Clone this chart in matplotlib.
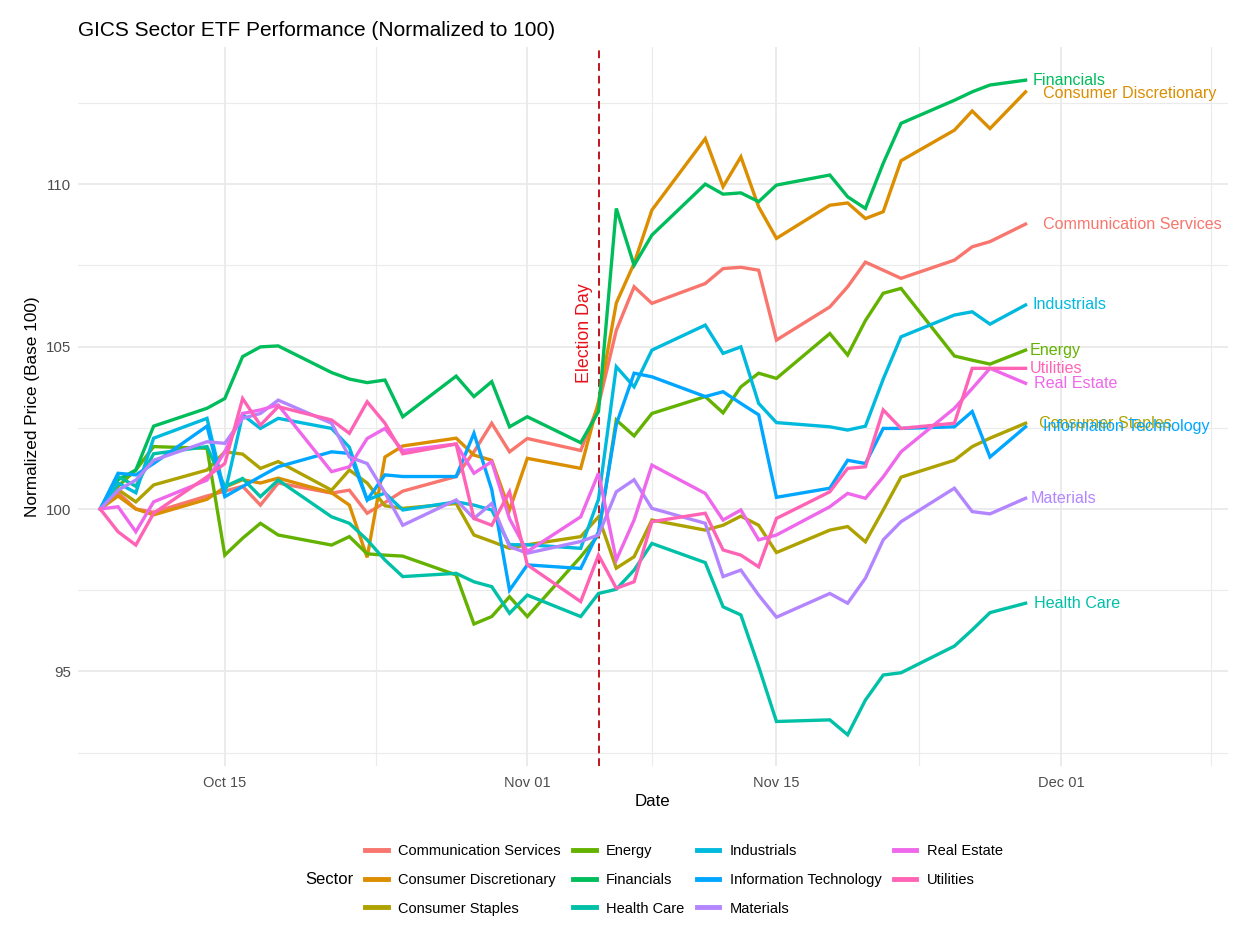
import matplotlib
matplotlib.use("Agg")
import matplotlib.pyplot as plt
import matplotlib.dates as mdates
from matplotlib.lines import Line2D
import pandas as pd

plt.rcParams['font.family'] = ['Liberation Sans', 'DejaVu Sans']

dates = pd.to_datetime([
    "2024-10-08", "2024-10-09", "2024-10-10", "2024-10-11", "2024-10-14", "2024-10-15",
    "2024-10-16", "2024-10-17", "2024-10-18", "2024-10-21", "2024-10-22", "2024-10-23",
    "2024-10-24", "2024-10-25", "2024-10-28", "2024-10-29", "2024-10-30", "2024-10-31",
    "2024-11-01", "2024-11-04", "2024-11-05", "2024-11-06", "2024-11-07", "2024-11-08",
    "2024-11-11", "2024-11-12", "2024-11-13", "2024-11-14", "2024-11-15", "2024-11-18",
    "2024-11-19", "2024-11-20", "2024-11-21", "2024-11-22", "2024-11-25", "2024-11-26",
    "2024-11-27", "2024-11-29"])

comm_services = [100, 100.5, 100.0, 99.9, 100.4, 100.55, 100.7, 100.12, 100.8, 100.49, 100.58, 99.87,
                 100.2, 100.55, 101.0, 101.76, 102.64, 101.76, 102.17, 101.8, 103.2, 105.5, 106.84, 106.33,
                 106.94, 107.4, 107.44, 107.35, 105.2, 106.22, 106.84, 107.6, 107.35, 107.1, 107.66, 108.07,
                 108.23, 108.77]
cons_discretionary = [100, 100.4, 100.0, 99.82, 100.3, 100.67, 100.9, 100.8, 100.95, 100.5, 100.12, 98.51,
                      101.6, 101.94, 102.18, 101.66, 101.5, 99.97, 101.56, 101.25, 103.3, 106.34, 107.56, 109.2,
                      111.4, 109.92, 110.84, 109.3, 108.33, 109.35, 109.42, 108.94, 109.15, 110.72, 111.66, 112.25,
                      111.71, 112.84]
cons_staples = [100, 100.6, 100.22, 100.74, 101.2, 101.76, 101.69, 101.25, 101.46, 100.58, 101.2, 100.8,
                100.1, 100.02, 100.17, 99.2, 99.0, 98.79, 98.9, 99.15, 99.76, 98.18, 98.53, 99.66,
                99.35, 99.5, 99.78, 99.5, 98.66, 99.35, 99.46, 98.99, 99.97, 100.98, 101.5, 101.92,
                102.18, 102.64]
energy = [100, 100.7, 101.2, 101.92, 101.87, 98.58, 99.1, 99.56, 99.2, 98.89, 99.15, 98.62,
          98.58, 98.55, 97.97, 96.46, 96.69, 97.3, 96.69, 98.53, 99.2, 102.74, 102.25, 102.94,
          103.46, 102.96, 103.76, 104.18, 104.02, 105.4, 104.74, 105.8, 106.64, 106.79, 104.71, 104.58,
          104.46, 104.89]
financials = [100, 100.9, 101.2, 102.55, 103.1, 103.4, 104.69, 104.99, 105.02, 104.2, 104.0, 103.89,
              103.97, 102.84, 104.09, 103.46, 103.92, 102.53, 102.84, 102.04, 103.0, 109.25, 107.5, 108.43,
              110.0, 109.69, 109.73, 109.46, 109.97, 110.28, 109.61, 109.25, 110.64, 111.87, 112.58, 112.84,
              113.05, 113.2]
health_care = [100, 101.0, 100.7, 101.7, 101.92, 100.69, 100.94, 100.38, 100.89, 99.76, 99.56, 99.05,
               98.43, 97.92, 98.02, 97.76, 97.61, 96.79, 97.35, 96.69, 97.4, 97.53, 98.12, 98.94,
               98.35, 96.99, 96.74, 95.15, 93.46, 93.51, 93.05, 94.12, 94.89, 94.96, 95.78, 96.28,
               96.81, 97.1]
industrials = [100, 100.8, 100.5, 102.18, 102.79, 100.48, 102.9, 102.48, 102.79, 102.48, 101.9, 100.28,
               100.49, 99.97, 100.22, 100.12, 99.97, 98.9, 98.9, 98.79, 100.3, 104.38, 103.76, 104.89,
               105.66, 104.79, 104.99, 103.25, 102.66, 102.53, 102.43, 102.55, 104.0, 105.3, 105.97, 106.07,
               105.69, 106.28]
info_tech = [100, 101.1, 101.05, 101.4, 102.55, 100.38, 100.69, 101.0, 101.3, 101.76, 101.71, 100.28,
             101.05, 101.0, 101.0, 102.33, 100.6, 97.5, 98.28, 98.17, 99.3, 102.6, 104.18, 104.07,
             103.46, 103.61, 103.25, 102.9, 100.36, 100.64, 101.5, 101.4, 102.48, 102.48, 102.53, 103.0,
             101.6, 102.53]
materials = [100, 100.58, 100.89, 101.5, 102.07, 102.02, 102.79, 102.94, 103.35, 102.64, 101.6, 101.4,
             100.5, 99.5, 100.28, 99.71, 100.17, 98.84, 98.64, 99.0, 99.2, 100.53, 100.9, 100.02,
             99.56, 97.92, 98.12, 97.35, 96.67, 97.4, 97.1, 97.87, 99.05, 99.61, 100.64, 99.92,
             99.85, 100.33]
real_estate = [100, 100.07, 99.3, 100.22, 100.89, 101.76, 102.94, 103.05, 103.2, 101.15, 101.3, 102.17,
               102.48, 101.8, 102.0, 101.1, 101.46, 99.7, 98.69, 99.76, 101.1, 98.43, 99.66, 101.35,
               100.48, 99.66, 99.97, 99.05, 99.2, 100.07, 100.48, 100.33, 100.99, 101.76, 103.1, 103.71,
               104.33, 103.87]
utilities = [100, 99.3, 98.89, 99.87, 100.99, 101.4, 103.4, 102.58, 103.15, 102.74, 102.33, 103.3,
             102.64, 101.7, 102.0, 99.71, 99.5, 100.53, 98.28, 97.15, 98.58, 97.56, 97.76, 99.61,
             99.87, 98.74, 98.58, 98.22, 99.71, 100.53, 101.25, 101.3, 103.05, 102.48, 102.64, 104.33,
             104.33, 104.33]

sectors = ["Communication Services", "Consumer Discretionary", "Consumer Staples", "Energy",
           "Financials", "Health Care", "Industrials", "Information Technology", "Materials",
           "Real Estate", "Utilities"]
series = [comm_services, cons_discretionary, cons_staples, energy, financials, health_care,
          industrials, info_tech, materials, real_estate, utilities]
colors = ["#F8766D", "#DB8E00", "#AEA200", "#64B200", "#00BD5C", "#00C1A7",
          "#00BADE", "#00A6FF", "#B385FF", "#EF67EB", "#FF63B6"]
# end label nudges, in pixels (x right, y down)
label_nudge = [17, 17, 13, 4, 7, 8, 7, 17, 5, 8, 4]
label_drop = [0, 1.5, 0, 0, 0, 0, 0, 0, 0, 0, 0]

election_day = pd.Timestamp("2024-11-05")

fig = plt.figure(figsize=(12.38, 9.36), dpi=100)
ax = fig.add_axes([78/1238, 1-766/936, (1228-78)/1238, (766-47)/936])

for name, vals, col, nud, drop in zip(sectors, series, colors, label_nudge, label_drop):
    ax.plot(dates, vals, color=col, lw=2.4, solid_joinstyle='miter', zorder=3)
    ax.annotate(name, xy=(dates[-1], vals[-1]), xytext=(nud*0.72, -drop*0.72),
                textcoords='offset points', color=col, fontsize=11.6,
                ha='left', va='center', zorder=4)

ax.axvline(election_day, color='#C0141E', lw=1.4, ls=(0, (4, 2.5)), zorder=2)
ax.annotate("Election Day", xy=(election_day, 105.4), xytext=(-4, 0),
            textcoords='offset points', rotation=90, color='#E8101A',
            fontsize=12.8, ha='right', va='center')

ax.set_xlim(pd.Timestamp("2024-10-06 18:00"), pd.Timestamp("2024-12-10 09:00"))
ax.set_ylim(92.09, 114.22)

ax.set_xticks(pd.to_datetime(["2024-10-15", "2024-11-01", "2024-11-15", "2024-12-01"]))
ax.xaxis.set_major_formatter(mdates.DateFormatter("%b %d"))
minor_x = [pd.Timestamp("2024-10-23 12:00"), pd.Timestamp("2024-11-08"),
           pd.Timestamp("2024-11-23"), pd.Timestamp("2024-12-09 10:00")]
ax.set_xticks(minor_x, minor=True)
ax.set_yticks([95, 100, 105, 110])
ax.set_yticks([92.5, 97.5, 102.5, 107.5, 112.5], minor=True)

ax.grid(which='major', color='#EBEBEB', lw=1.4, zorder=0)
ax.grid(which='minor', color='#EBEBEB', lw=0.8, zorder=0)
ax.tick_params(which='both', length=0)
ax.tick_params(axis='x', labelsize=10.5, labelcolor='#4D4D4D', pad=7)
ax.tick_params(axis='y', labelsize=10.8, labelcolor='#4D4D4D', pad=5)
for s in ax.spines.values():
    s.set_visible(False)

ax.set_xlabel("Date", fontsize=12.2, labelpad=3)
ax.set_ylabel("Normalized Price (Base 100)", fontsize=12.4, labelpad=4)
fig.text(78/1238, 1-30/936, "GICS Sector ETF Performance (Normalized to 100)",
         fontsize=15, ha='left', va='center')

handles = [Line2D([], [], color=c, lw=3.5) for c in colors]
fig.legend(handles, sectors, ncol=4, loc='center', bbox_to_anchor=(684/1238, 1-880/936),
           frameon=False, fontsize=10.5, handlelength=1.55, handletextpad=0.7,
           columnspacing=0.85, labelspacing=1.0)
fig.text(305/1238, 1-880/936, "Sector", fontsize=12, ha='left', va='center')

fig.savefig("out.png", dpi=100)
